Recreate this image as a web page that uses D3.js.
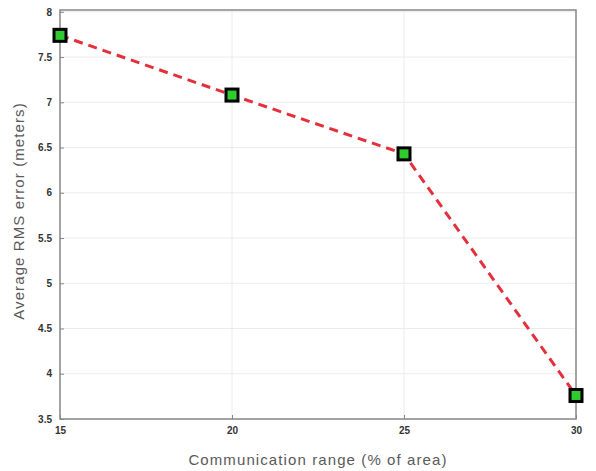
<!DOCTYPE html>
<html>
<head>
<meta charset="utf-8">
<script src="https://cdn.jsdelivr.net/npm/d3@7"></script>
<style>
    body { margin: 0; background: #fff; }
    .tick text { font-family: "Liberation Sans", Arial, sans-serif; font-size: 10px; font-weight: bold; fill: #333; }
    .axis-title { font-family: "Liberation Sans", Arial, sans-serif; font-size: 15px; letter-spacing: 1.1px; fill: #5a5a5a; }
</style>
</head>
<body>
<div id="chart"></div>
<script>
    const ranges = [15, 20, 25, 30];
    const rmsError = [7.74, 7.08, 6.43, 3.76];
    const xTicks = [15, 20, 25, 30];
    const yTicks = [3.5, 4, 4.5, 5, 5.5, 6, 6.5, 7, 7.5, 8];

    const width = 596, height = 471;
    const margin = { top: 10, right: 20, bottom: 52, left: 60 };
    const plotW = width - margin.left - margin.right;
    const plotH = height - margin.top - margin.bottom;

    const svg = d3.select("#chart").append("svg")
        .attr("width", width)
        .attr("height", height);

    const g = svg.append("g")
        .attr("transform", `translate(${margin.left},${margin.top})`);

    const x = d3.scaleLinear().domain([15, 30]).range([0, plotW]);
    const y = d3.scaleLinear().domain([3.5, 8.02]).range([plotH, 0]);

    // light grid
    g.append("g").selectAll("line.vg").data(xTicks).join("line")
        .attr("x1", d => x(d)).attr("x2", d => x(d))
        .attr("y1", 0).attr("y2", plotH)
        .attr("stroke", "#ececec");
    g.append("g").selectAll("line.hg").data(yTicks).join("line")
        .attr("x1", 0).attr("x2", plotW)
        .attr("y1", d => y(d)).attr("y2", d => y(d))
        .attr("stroke", "#ececec");

    const xAxis = d3.axisBottom(x).tickValues(xTicks).tickSizeInner(-4).tickSizeOuter(0).tickPadding(8);
    const yAxis = d3.axisLeft(y).tickValues(yTicks).tickSizeInner(-4).tickSizeOuter(0).tickPadding(8)
        .tickFormat(d3.format("~g"));

    const gx = g.append("g").attr("transform", `translate(0,${plotH})`).call(xAxis);
    const gy = g.append("g").call(yAxis);
    [gx, gy].forEach(a => {
        a.select(".domain").remove();
        a.selectAll(".tick line").attr("stroke", "#888");
    });

    // frame
    g.append("rect")
        .attr("width", plotW).attr("height", plotH)
        .attr("fill", "none").attr("stroke", "#888").attr("stroke-width", 1.5);

    const line = d3.line().x((d, i) => x(ranges[i])).y(d => y(d));
    g.append("path")
        .attr("d", line(rmsError))
        .attr("fill", "none")
        .attr("stroke", "#e3303c")
        .attr("stroke-width", 3)
        .attr("stroke-dasharray", "9,6");

    g.selectAll("rect.marker").data(rmsError).join("rect")
        .attr("class", "marker")
        .attr("x", (d, i) => x(ranges[i]) - 6)
        .attr("y", d => y(d) - 6)
        .attr("width", 12).attr("height", 12)
        .attr("fill", "#2ecc2e")
        .attr("stroke", "#000").attr("stroke-width", 3);

    svg.append("text").attr("class", "axis-title")
        .attr("x", 318).attr("y", 465)
        .attr("text-anchor", "middle")
        .text("Communication range (% of area)");

    svg.append("text").attr("class", "axis-title")
        .attr("transform", `translate(24,211) rotate(-90)`)
        .attr("text-anchor", "middle")
        .text("Average RMS error (meters)");
</script>
</body>
</html>
